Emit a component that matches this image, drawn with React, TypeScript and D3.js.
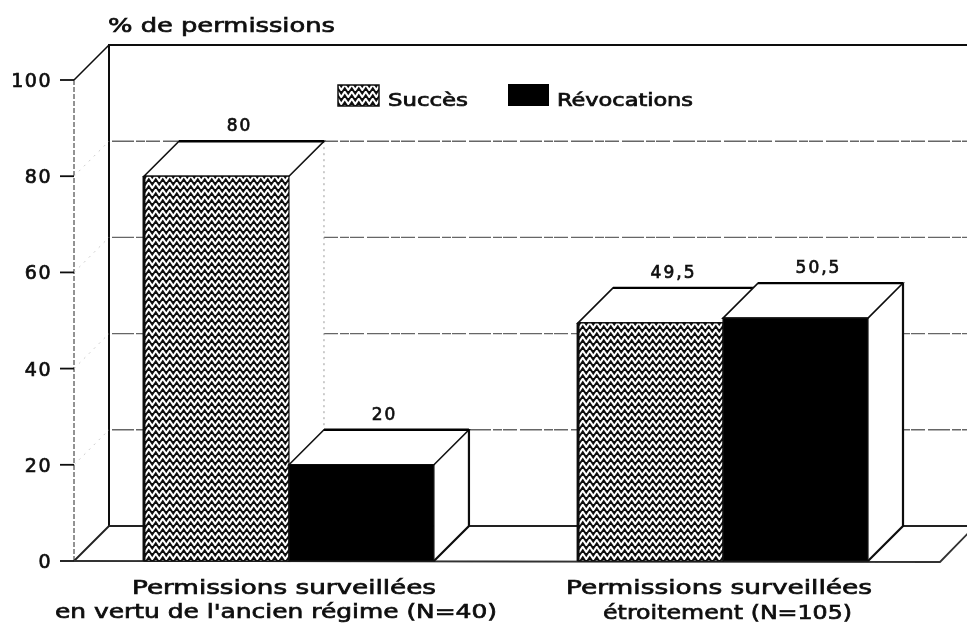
import * as d3 from "d3";

const groups = ["ancien", "etroit"];
const series = ["Succès", "Révocations"];
const succes = [80, 49.5];
const revocations = [20, 50.5];
const valueLabels = [["80", "20"], ["49,5", "50,5"]];
const yTicks = [0, 20, 40, 60, 80, 100];
const gridTicks = [20, 40, 60, 80];

const width = 967;
const height = 625;
const depth = 35;
const floorRight = 940;

const y = d3.scaleLinear().domain([0, 100]).range([561, 80]);
const x0 = d3.scaleBand<string>().domain(groups).range([144, 868]).paddingInner(0.332);
const x1 = d3.scaleBand<string>().domain(series).range([0, x0.bandwidth()]);

const line = d3.line();
const poly = (pts: [number, number][]) => line(pts) + "Z";

const font = "'DejaVu Sans', sans-serif";
const textProps = { fontFamily: font, fill: "#111", stroke: "#111", strokeWidth: 0.7, lengthAdjust: "spacingAndGlyphs" };

function Bar({ gi, si }: { gi: number; si: number }) {
  const name = series[si];
  const v = (si === 0 ? succes : revocations)[gi];
  const left = x0(groups[gi])! + x1(name)!;
  const right = left + x1.bandwidth();
  const top = y(v);
  const base = y(0);
  const fill = si === 0 ? "url(#zigzag)" : "#000";
  // the tall bar's back edge is faint in the scan
  const faintEdge = v > 60;
  return (
    <g>
      <path d={poly([[right, top], [right + depth, top - depth], [right + depth, base - depth], [right, base]])} fill="#fff" stroke="none" />
      <path d={line([[right + depth, top - depth], [right + depth, base - depth], [right, base]])!} fill="none" stroke={faintEdge ? "#999" : "#111"} strokeWidth={faintEdge ? 1 : 2.2} strokeDasharray={faintEdge ? "2 4" : undefined} />
      <path d={poly([[left, top], [left + depth, top - depth], [right + depth, top - depth], [right, top]])} fill="#fff" stroke="#111" strokeWidth={1.6} />
      <path d={line([[left + depth, top - depth], [right + depth, top - depth]])!} stroke="#000" strokeWidth={2.4} fill="none" />
      <rect x={left} y={top} width={right - left} height={base - top} fill={fill} stroke="#111" strokeWidth={1.2} />
      {si === 0 && <path d={line([[left, top], [left, base]])!} stroke="#111" strokeWidth={3} fill="none" />}
      <text x={(left + right) / 2 + 23} y={top - depth - 10} textAnchor="middle" fontSize={17} letterSpacing={2} {...textProps}>
        {valueLabels[gi][si]}
      </text>
    </g>
  );
}

export default function App() {
  const backX = 74 + depth;
  return (
    <svg width={width} height={height} viewBox={`0 0 ${width} ${height}`} style={{ position: "fixed", left: 0, top: 0, background: "#fff" }}>
      <defs>
        <pattern id="zigzag" width={7} height={7} patternUnits="userSpaceOnUse">
          <rect width={7} height={7} fill="#111" />
          <path d="M-1.75 6 L1.75 0.8 L5.25 6 L8.75 0.8" fill="none" stroke="#fff" strokeWidth={2} />
        </pattern>
        <filter id="scan" x="0" y="0" width="100%" height="100%">
          <feGaussianBlur stdDeviation={0.6} />
        </filter>
      </defs>
      <g filter="url(#scan)">
        {/* walls */}
        <path d={line([[backX, y(0) - depth], [backX, y(100) - depth], [width, y(100) - depth]])!} fill="none" stroke="#111" strokeWidth={2} />
        <path d={line([[74, y(100)], [74, y(0)]])!} fill="none" stroke="#666" strokeWidth={1.4} strokeDasharray="5 2" />
        <path d={line([[74, y(100)], [backX, y(100) - depth]])!} stroke="#111" strokeWidth={1.6} fill="none" />
        {gridTicks.map((t) => (
          <g key={t}>
            <path d={line([[backX + 3, y(t) - depth], [width, y(t) - depth]])!} stroke="#666" strokeWidth={1.4} strokeDasharray="22 2 9 1 14 3" fill="none" />
            <path d={line([[74, y(t)], [backX, y(t) - depth]])!} stroke="#ccc" strokeWidth={1} strokeDasharray="2 5" fill="none" />
          </g>
        ))}
        {/* floor */}
        <path d={line([[74, y(0)], [backX, y(0) - depth], [width, y(0) - depth]])!} fill="none" stroke="#222" strokeWidth={1.8} />
        <path d={line([[74, y(0)], [floorRight, y(0) + 1], [floorRight + depth, y(0) - depth]])!} fill="none" stroke="#333" strokeWidth={1.8} />

        {/* y axis */}
        {yTicks.map((t) => (
          <g key={t}>
            <path d={line([[60, y(t)], [74, y(t)]])!} stroke="#111" strokeWidth={1.8} />
            <text x={52} y={y(t) + 7} textAnchor="end" fontSize={19} letterSpacing={1.5} {...textProps}>{t}</text>
          </g>
        ))}
        <text x={108} y={32} textLength={227} fontSize={20} {...textProps}>% de permissions</text>

        {/* bars */}
        {groups.map((g, gi) => (
          <g key={g}>
            {series.map((s, si) => <Bar key={s} gi={gi} si={si} />)}
          </g>
        ))}

        {/* legend */}
        <rect x={338} y={85} width={41} height={21} fill="url(#zigzag)" stroke="#111" strokeWidth={1.5} />
        <text x={388} y={106} textLength={80} fontSize={17} {...textProps}>{series[0]}</text>
        <rect x={508} y={84} width={41} height={22} fill="#000" />
        <text x={557} y={106} textLength={136} fontSize={17} {...textProps}>{series[1]}</text>

        {/* category labels */}
        <text x={132} y={594} textLength={304} fontSize={20} {...textProps}>Permissions surveillées</text>
        <text x={55} y={618} textLength={442} fontSize={20} {...textProps}>en vertu de l'ancien régime (N=40)</text>
        <text x={566} y={594} textLength={306} fontSize={20} {...textProps}>Permissions surveillées</text>
        <text x={603} y={619} textLength={249} fontSize={20} {...textProps}>étroitement (N=105)</text>
      </g>
    </svg>
  );
}
